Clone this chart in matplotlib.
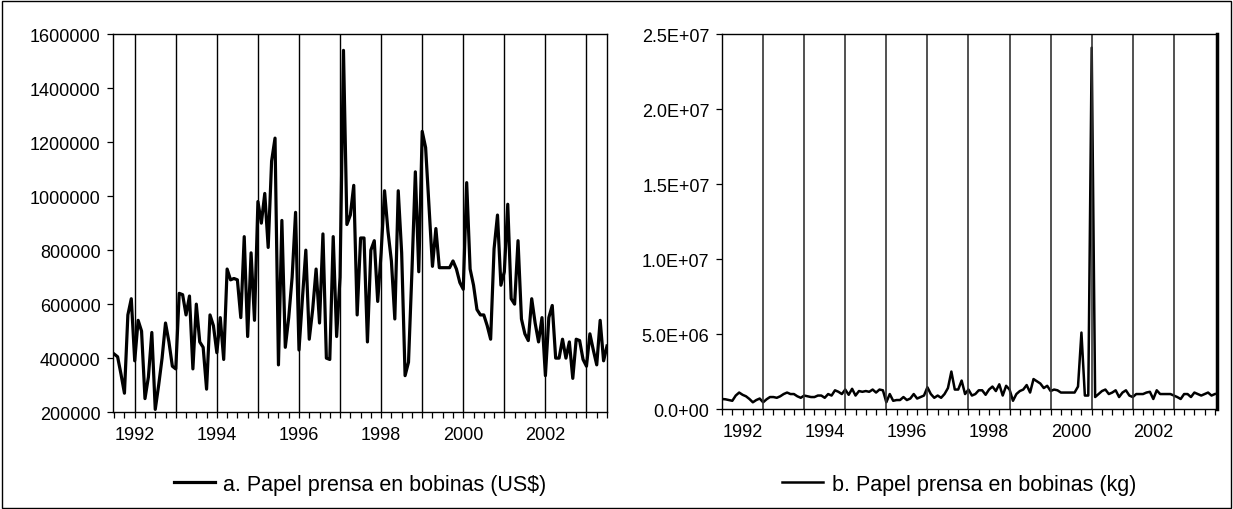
import numpy as np
import matplotlib
matplotlib.use("Agg")
import matplotlib.pyplot as plt
from matplotlib.ticker import FuncFormatter

plt.rcParams['font.family'] = ['Liberation Sans', 'DejaVu Sans']

# monthly series, 1991M07 .. 2003M07
start_year = 1991.5
n_months = 145

# a. Papel prensa en bobinas (US$), thousands
usd_k = [
    415, 405, 340, 270, 560, 620, 390, 540, 500, 250,
    330, 495, 210, 300, 400, 530, 460, 370, 360, 640,
    635, 560, 630, 360, 600, 460, 440, 285, 560, 520,
    420, 550, 395, 730, 690, 695, 690, 550, 850, 480,
    790, 540, 980, 900, 1010, 810, 1130, 1215, 375, 910,
    440, 550, 700, 940, 430, 620, 800, 470, 580, 730,
    530, 860, 400, 395, 850, 480, 700, 1540, 895, 930,
    1040, 560, 845, 845, 460, 800, 835, 610, 790, 1020,
    870, 760, 545, 1020, 790, 335, 385, 720, 1090, 720,
    1240, 1180, 960, 740, 880, 735, 735, 735, 735, 760,
    730, 680, 655, 1050, 730, 670, 580, 560, 560, 520,
    470, 805, 930, 670, 720, 970, 620, 600, 835, 545,
    490, 465, 620, 530, 460, 550, 335, 550, 595, 400,
    400, 470, 400, 460, 325, 470, 465, 395, 370, 490,
    430, 375, 540, 390, 445,
]

# b. Papel prensa en bobinas (kg), millions
kg_m = [
    0.67, 0.65, 0.60, 0.55, 0.90, 1.10, 0.95, 0.85, 0.67, 0.45,
    0.60, 0.70, 0.45, 0.65, 0.80, 0.80, 0.75, 0.85, 1.00, 1.10,
    1.00, 1.00, 0.85, 0.75, 0.90, 0.85, 0.80, 0.80, 0.90, 0.90,
    0.75, 1.00, 0.90, 1.25, 1.15, 1.00, 1.30, 0.95, 1.35, 0.90,
    1.20, 1.15, 1.20, 1.15, 1.30, 1.10, 1.30, 1.25, 0.45, 1.00,
    0.55, 0.60, 0.60, 0.80, 0.60, 0.70, 1.00, 0.70, 0.80, 0.90,
    1.45, 1.00, 0.75, 0.90, 0.75, 1.00, 1.40, 2.50, 1.30, 1.30,
    1.90, 1.00, 1.30, 0.90, 1.00, 1.25, 1.25, 0.95, 1.30, 1.50,
    1.20, 1.65, 0.90, 1.55, 1.30, 0.55, 1.00, 1.20, 1.30, 1.60,
    1.10, 2.00, 1.85, 1.70, 1.40, 1.55, 1.20, 1.30, 1.25, 1.10,
    1.10, 1.10, 1.10, 1.10, 1.50, 5.10, 0.90, 0.90, 24.10, 0.80,
    1.00, 1.20, 1.30, 1.00, 1.10, 1.25, 0.80, 1.10, 1.25, 0.90,
    0.80, 1.00, 1.00, 1.00, 1.10, 1.15, 0.67, 1.25, 1.00, 1.00,
    1.00, 1.00, 0.90, 0.80, 0.67, 1.00, 1.00, 0.80, 1.10, 1.00,
    0.90, 1.00, 1.10, 0.90, 1.00,
]

lines_a = [1992, 1993, 1994, 1995, 1996, 1997, 1998, 1999, 2000, 2001, 2002, 2003]
lines_b = [1992.5, 1993.5, 1994.5, 1995.5, 1996.5, 1997.5, 1998.5, 1999.5,
           2000.5, 2001.5, 2002.5]
year_labels = [1992, 1994, 1996, 1998, 2000, 2002]

x = start_year + np.arange(n_months) / 12.0
usd = np.array(usd_k) * 1000
kg = np.array(kg_m) * 1e6

fig = plt.figure(figsize=(12.33, 5.10), dpi=100)
ax1 = fig.add_axes([0.0916, 0.190, 0.4007, 0.741])
ax2 = fig.add_axes([0.5856, 0.196, 0.4014, 0.735])


def style_axis(ax, xmin, xmax):
    ax.set_xlim(xmin, xmax)
    ax.set_xticks(year_labels)
    ax.set_xticklabels([str(y) for y in year_labels])
    ax.set_xticks(np.arange(1991.5, 2003.6, 0.25), minor=True)
    ax.tick_params(axis='x', which='both', direction='out', length=4,
                   width=0.9, labelsize=13, pad=6)
    ax.tick_params(axis='y', direction='out', length=4, width=0.9,
                   labelsize=13, pad=5)
    for s in ax.spines.values():
        s.set_linewidth(1.0)


ax1.plot(x, usd, color='black', lw=2.3)
for v in lines_a:
    ax1.axvline(v, color='black', lw=1.0)
ax1.set_ylim(200000, 1600000)
ax1.set_yticks(np.arange(200000, 1600001, 200000))
ax1.yaxis.set_major_formatter(FuncFormatter(lambda v, p: '%d' % v))
style_axis(ax1, 1991.47, 2003.5)

ax2.plot(x, kg, color='black', lw=1.8)
for v in lines_b:
    ax2.axvline(v, color='#333333', lw=1.2)
ax2.set_ylim(0, 2.5e7)
ax2.set_yticks(np.arange(0, 2.5e7 + 1, 5e6))
ax2.set_yticklabels(['0.0+00', '5.0E+06', '1.0E+07', '1.5E+07',
                     '2.0E+07', '2.5E+07'])
style_axis(ax2, 1991.5, 2003.55)
ax2.spines['right'].set_linewidth(2.5)

# legends under each panel
fig.legend(handles=ax1.lines[:1], labels=['a. Papel prensa en bobinas (US$)'],
           loc='center', bbox_to_anchor=(0.292, 0.049), frameon=False,
           fontsize=15.5, handlelength=1.9, handletextpad=0.4)
fig.legend(handles=ax2.lines[:1], labels=['b. Papel prensa en bobinas (kg)'],
           loc='center', bbox_to_anchor=(0.778, 0.049), frameon=False,
           fontsize=15.5, handlelength=1.9, handletextpad=0.4)

# outer frame
fig.patches.append(plt.Rectangle((0.002, 0.002), 0.996, 0.994,
                                 transform=fig.transFigure, fill=False,
                                 lw=1.0, edgecolor='black'))

fig.savefig('out.png', dpi=100)
